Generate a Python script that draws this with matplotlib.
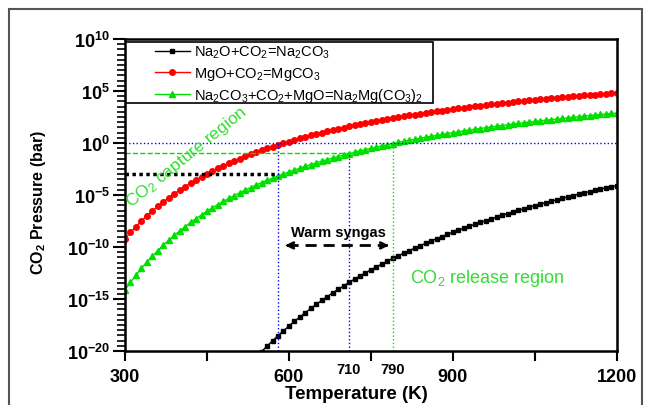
import matplotlib
matplotlib.use('Agg')
import matplotlib.pyplot as plt
import matplotlib.ticker as mticker
from matplotlib.patches import Rectangle
import numpy as np

plt.rcParams['font.family'] = ['Liberation Sans', 'DejaVu Sans']
plt.rcParams['mathtext.fontset'] = 'custom'
plt.rcParams['mathtext.rm'] = 'Liberation Sans'
plt.rcParams['mathtext.it'] = 'Liberation Sans:italic'
plt.rcParams['mathtext.bf'] = 'Liberation Sans:bold'
plt.rcParams['mathtext.default'] = 'regular'

# temperatures (K), 10 K steps
temp_all = list(range(300, 1201, 10))
temp_na2o = list(range(550, 1201, 10))

# log10 of CO2 equilibrium pressure (bar)
log_mgo = [-9.20, -8.60, -8.04, -7.50, -7.00, -6.53, -6.09, -5.67, -5.27, -4.89,
           -4.53, -4.19, -3.86, -3.55, -3.26, -2.97, -2.70, -2.44, -2.19, -1.96,
           -1.73, -1.51, -1.29, -1.09, -0.90, -0.71, -0.52, -0.35, -0.18, -0.02,
           0.14, 0.30, 0.44, 0.59, 0.73, 0.86, 0.99, 1.12, 1.24, 1.36,
           1.48, 1.59, 1.70, 1.81, 1.91, 2.01, 2.11, 2.21, 2.30, 2.39,
           2.48, 2.57, 2.65, 2.73, 2.81, 2.89, 2.97, 3.04, 3.12, 3.19,
           3.26, 3.33, 3.39, 3.46, 3.52, 3.59, 3.65, 3.71, 3.77, 3.83,
           3.88, 3.94, 3.99, 4.05, 4.10, 4.15, 4.20, 4.25, 4.30, 4.35,
           4.39, 4.44, 4.48, 4.53, 4.57, 4.61, 4.66, 4.70, 4.74, 4.78, 4.82]

log_na2mg = [-14.12, -13.39, -12.70, -12.06, -11.45, -10.88, -10.34, -9.83, -9.35, -8.89,
             -8.45, -8.04, -7.64, -7.26, -6.91, -6.56, -6.23, -5.92, -5.62, -5.33,
             -5.05, -4.78, -4.53, -4.28, -4.04, -3.81, -3.59, -3.38, -3.17, -2.98,
             -2.78, -2.60, -2.42, -2.24, -2.08, -1.91, -1.75, -1.60, -1.45, -1.31,
             -1.16, -1.03, -0.89, -0.77, -0.64, -0.52, -0.40, -0.28, -0.17, -0.06,
             0.05, 0.16, 0.26, 0.36, 0.45, 0.55, 0.64, 0.73, 0.82, 0.91,
             0.99, 1.08, 1.16, 1.24, 1.32, 1.39, 1.47, 1.54, 1.61, 1.68,
             1.75, 1.82, 1.88, 1.95, 2.01, 2.07, 2.13, 2.19, 2.25, 2.31,
             2.37, 2.42, 2.48, 2.53, 2.59, 2.64, 2.69, 2.74, 2.79, 2.84, 2.88]

log_na2o = [-20.05, -19.53, -19.02, -18.53, -18.06, -17.60, -17.15, -16.73, -16.31, -15.91,
            -15.52, -15.14, -14.77, -14.42, -14.07, -13.74, -13.41, -13.09, -12.79, -12.49,
            -12.19, -11.91, -11.63, -11.36, -11.10, -10.84, -10.59, -10.35, -10.11, -9.88,
            -9.65, -9.43, -9.21, -9.00, -8.79, -8.59, -8.39, -8.20, -8.01, -7.82,
            -7.64, -7.47, -7.29, -7.12, -6.95, -6.79, -6.63, -6.47, -6.32, -6.17,
            -6.02, -5.87, -5.73, -5.59, -5.45, -5.32, -5.18, -5.05, -4.93, -4.80,
            -4.68, -4.55, -4.43, -4.32, -4.20, -4.09]

labels = ['Na$_2$O+CO$_2$=Na$_2$CO$_3$',
          'MgO+CO$_2$=MgCO$_3$',
          'Na$_2$CO$_3$+CO$_2$+MgO=Na$_2$Mg(CO$_3$)$_2$']

xtick_vals = [300, 450, 600, 750, 900, 1050, 1200]
xtick_labels = ['300', '', '600', '', '900', '', '1200']
ytick_exps = [10, 5, 0, -5, -10, -15, -20]

GREEN = '#00e000'
GREEN_TXT = '#33dd33'

fig = plt.figure(figsize=(6.5, 4.06), dpi=100)
ax = fig.add_axes([0.1923, 0.133, 0.7567, 0.7685])

ax.plot(temp_na2o, 10.0 ** np.array(log_na2o), '-s', color='black', ms=3.4, lw=1,
        label=labels[0])
ax.plot(temp_all, 10.0 ** np.array(log_mgo), '-o', color='red', ms=4, lw=1,
        label=labels[1])
ax.plot(temp_all, 10.0 ** np.array(log_na2mg), '-^', color=GREEN, ms=4, lw=1,
        label=labels[2])

# guide lines
ax.hlines(1, 300, 1200, color='blue', ls=':', lw=1)
ax.hlines(0.11, 300, 710, color=GREEN, ls='--', lw=1)
ax.hlines(1e-3, 300, 580, color='black', ls=(0, (1, 1)), lw=2.5)
ax.vlines(580, 1e-20, 1, color='blue', ls=':', lw=1)
ax.vlines(710, 1e-20, 0.11, color='blue', ls=':', lw=1)
ax.vlines(790, 1e-20, 1, color=GREEN, ls=':', lw=1)

# warm syngas arrow
ay = 10 ** -9.85
ax.plot([596, 780], [ay, ay], color='black', ls=(0, (4, 2.5)), lw=2)
ax.annotate('', xy=(588, ay), xytext=(606, ay),
            arrowprops=dict(arrowstyle='->', color='black', lw=2))
ax.annotate('', xy=(788, ay), xytext=(770, ay),
            arrowprops=dict(arrowstyle='->', color='black', lw=2))
ax.text(690, 10 ** -8.6, 'Warm syngas', ha='center', va='center',
        fontsize=10.5, fontweight='bold')

ax.text(822, 10 ** -12.9, 'CO$_2$ release region', ha='left', va='center',
        fontsize=13, color=GREEN_TXT)
ax.text(316, 10 ** -6.5, 'CO$_2$ capture region', ha='left', va='bottom',
        rotation=39, rotation_mode='anchor', fontsize=12.5, color=GREEN_TXT)

ax.set_yscale('log')
ax.set_xlim(300, 1200)
ax.set_ylim(1e-20, 1e10)

ax.set_xticks(xtick_vals)
ax.set_xticklabels(xtick_labels, fontsize=13, fontweight='bold')
ax.yaxis.set_major_locator(mticker.FixedLocator([10.0 ** e for e in ytick_exps]))
ax.yaxis.set_major_formatter(mticker.FixedFormatter(
    [r'$\mathbf{10^{%d}}$' % e for e in ytick_exps]))
ax.yaxis.set_minor_locator(mticker.FixedLocator([10.0 ** (k / 2) for k in range(-40, 21)]))
ax.yaxis.set_minor_formatter(mticker.NullFormatter())
ax.tick_params(axis='y', which='major', length=9, width=1.5, labelsize=13, pad=2)
ax.tick_params(axis='y', which='minor', length=6, width=1.2)
ax.tick_params(axis='x', which='major', length=7, width=1.5, pad=5)

for lab, xv in zip(['710', '790'], [710, 790]):
    ax.text(xv, -0.058, lab, transform=ax.get_xaxis_transform(), ha='center',
            va='center', fontsize=10.5, fontweight='bold')

for s in ax.spines.values():
    s.set_linewidth(1.8)

ax.set_ylabel(r'CO$_\mathbf{2}$ Pressure (bar)', fontsize=11.5, fontweight='bold')
ax.yaxis.set_label_coords(-0.157, 0.48)
ax.set_xlabel('Temperature (K)', fontsize=13.5, fontweight='bold')
ax.xaxis.set_label_coords(0.47, -0.135)
ax.xaxis.label.set_va('center')

# legend with a frame drawn separately
ax.add_patch(Rectangle((0, 0.795), 0.626, 0.195, transform=ax.transAxes,
                       fill=False, edgecolor='black', lw=1.2, zorder=4))
ax.legend(loc='upper left', bbox_to_anchor=(0.055, 0.993), frameon=False,
          fontsize=10.5, borderpad=0.2, borderaxespad=0, labelspacing=0.3,
          handlelength=2.4, handletextpad=0.3, numpoints=1)

# outer border
fig.patches.append(Rectangle((9 / 650, -0.05), 633 / 650, 0.975 + 0.05,
                             transform=fig.transFigure, fill=False,
                             edgecolor='#555555', lw=1.5))

fig.savefig('out.png', dpi=100)
